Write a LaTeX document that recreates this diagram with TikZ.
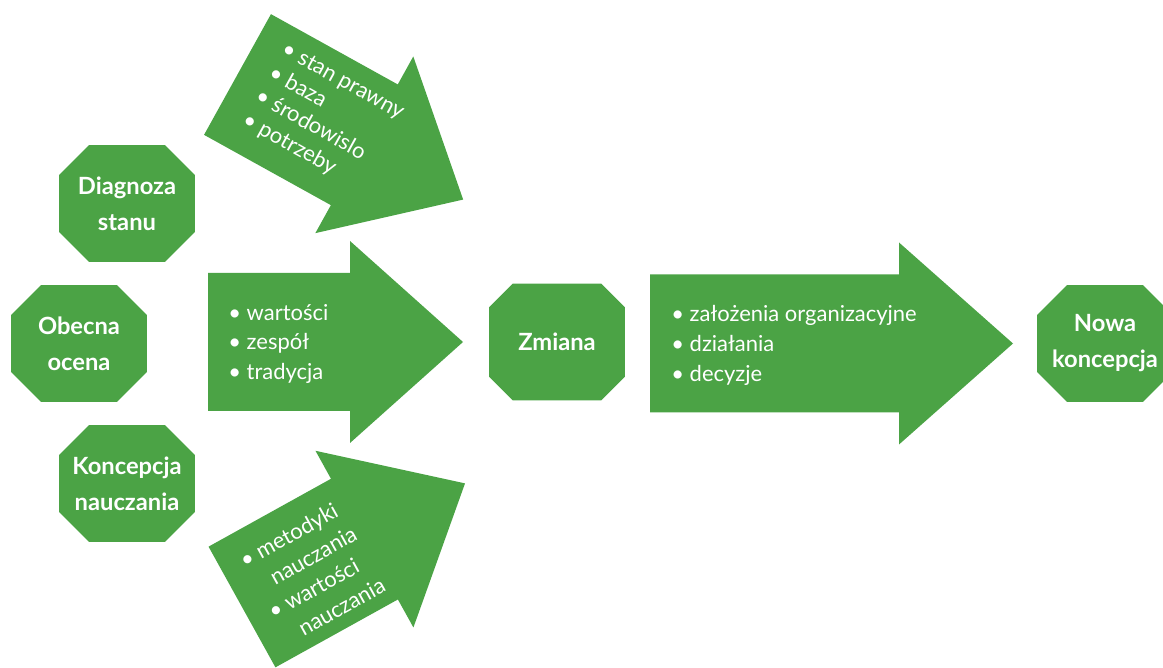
\documentclass[tikz,border=0pt]{standalone}
\usepackage{fontspec}
\setmainfont{Lato}
\usetikzlibrary{shapes.misc}
\definecolor{leaf}{RGB}{75,163,69}
\begin{document}
\begin{tikzpicture}[
  x=0.02cm, y=-0.02cm,
  octa/.style={shape=chamfered rectangle, chamfered rectangle sep=0.3cm,
    fill=leaf, text=white, align=center, inner xsep=-0.25cm, inner ysep=0pt,
    minimum width=2.72cm, minimum height=2.34cm,
    font=\bfseries\fontsize{13.5}{20.5}\selectfont},
  items/.style={text=white, anchor=west, inner sep=0pt,
    font=\fontsize{12.5}{17}\selectfont},
  arrowpath/.style 2 args={insert path={(0,-69) -- (#1,-69) -- (#1,-101)
    -- (#2,0) -- (#1,101) -- (#1,69) -- (0,69) -- cycle}}
  ]
	\useasboundingbox (0,0) rectangle (1163,668);
	\clip (0,0) rectangle (1163,668);

	\node[octa] (diag) at (127,203.5) {Diagnoza\\stanu};
	\node[octa] (obecna) at (79,343.5) {Obecna\\ocena};
	\node[octa] (konc) at (127,483.5) {Koncepcja\\nauczania};
	\node[octa] (zmiana) at (557,342) {Zmiana};
	\node[octa] (nowa) at (1105,343.5) {Nowa\\koncepcja};

	% top arrow
	\begin{scope}[shift={(237.5,74.5)}, rotate=-29, transform shape]
		\fill[leaf, arrowpath={145}{258}];
		\node[items, font=\fontsize{12.5}{15.4}\selectfont] (stan) at (27,-4)
			{\begin{tabular}{@{}l@{~}l@{}}
			\textbullet & stan prawny\\
			\textbullet & baza\\
			\textbullet & środowislo\\
			\textbullet & potrzeby
			\end{tabular}};
	\end{scope}

	% middle arrow
	\begin{scope}[shift={(208,342)}]
		\fill[leaf, arrowpath={142}{255}];
		\node[items] (wart) at (20,2)
			{\begin{tabular}{@{}l@{~}l@{}}
			\textbullet & wartości\\
			\textbullet & zespół\\
			\textbullet & tradycja
			\end{tabular}};
	\end{scope}

	% bottom arrow
	\begin{scope}[shift={(242,607)}, rotate=29, transform shape]
		\fill[leaf, arrowpath={140}{255}];
		\node[items, font=\fontsize{12.5}{16.7}\selectfont] (metod) at (21,6)
			{\begin{tabular}{@{}l@{~}l@{}}
			\textbullet & metodyki\\
			 & nauczania\\
			\textbullet & wartości\\
			 & nauczania
			\end{tabular}};
	\end{scope}

	% big arrow
	\begin{scope}[shift={(650,343.5)}]
		\fill[leaf, arrowpath={249}{363}];
		\node[items] (zal) at (21,2)
			{\begin{tabular}{@{}l@{~}l@{}}
			\textbullet & założenia organizacyjne\\
			\textbullet & działania\\
			\textbullet & decyzje
			\end{tabular}};
	\end{scope}
\end{tikzpicture}
\end{document}
